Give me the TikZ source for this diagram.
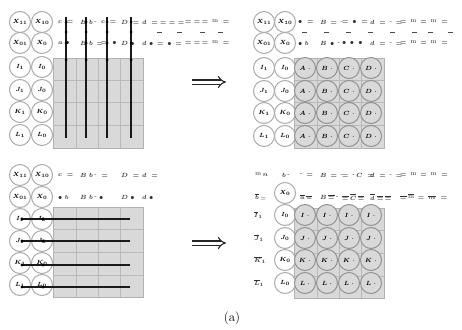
\documentclass[tikz,border=0pt]{standalone}
\usetikzlibrary{arrows.meta}
\begin{document}
\begin{tikzpicture}[x=1pt,y=-1pt,
  cell/.style={circle,draw=gray!65,line width=1pt,fill=white,minimum size=21pt,inner sep=0pt,font=\fontsize{6}{6}\selectfont\boldmath},
  scell/.style={cell,fill=gray!30,draw=gray!85},
  gridbox/.style={fill=gray!30,draw=gray!60,line width=0.6pt,minimum width=90pt,minimum height=90pt,inner sep=0pt},
  gline/.style={gray!55,line width=0.6pt},
  frag/.style={font=\fontsize{6.5}{6.5}\selectfont\boldmath,text=black!80,inner sep=0pt,anchor=west},
  bar/.style={line width=2pt,black!90},
  implies/.style={double,double distance=3pt,line width=1.1pt,black!85,-{Implies[length=5pt]}}]
\useasboundingbox (0,0) rectangle (462,329);

% ================= top-left =================
\node[gridbox] (TLg) at (98,103) {};
\foreach \x in {76,98,120} \draw[gline] (\x,58) -- (\x,148);
\foreach \y in {80,102,125} \draw[gline] (53,\y) -- (143,\y);
\foreach \n/\a/\b/\y in {r1/X_{11}/X_{10}/22, r2/X_{01}/X_{0}/43, r3/I_1/I_0/67, r4/J_1/J_0/90, r5/K_1/K_0/112, r6/L_1/L_0/135}{
  \node[cell] (TLa\n) at (20,\y) {$\a$};
  \node[cell] (TLb\n) at (42,\y) {$\b$};
}
\foreach \x/\t in {58/c\;=, 80/B\;b\,\raisebox{1pt}{-}, 101/c\;=, 121/D\;=, 142/d\;=\;=\;=\;=, 185/=\;=\,=\,\raisebox{1pt}{m}\;=}
  \node[frag] at (\x,22) {$\t$};
\foreach \x in {157,177,200,218} \draw[black!70,line width=0.8pt] (\x,32) -- ++(5,0);
\foreach \x/\t in {58/a\;\bullet, 80/B\;b\,=, 101/=\;\bullet, 121/D\;\bullet, 142/d\;\bullet\,=\,\bullet\,=, 185/=\;=\,=\,\raisebox{1pt}{m}\;=}
  \node[frag] at (\x,43) {$\t$};
\foreach \i/\xx in {1/66,2/86,3/107,4/131}{
  \coordinate (TLv\i t) at (\xx,17);
  \coordinate (TLv\i b) at (\xx,138);
  \draw[bar] (TLv\i t) -- (TLv\i b);
}
\foreach \xx in {66,86,107,131}{
  \foreach \yy in {22,32,43,60} \fill[black] (\xx,\yy) circle (1.5pt);
}

\coordinate (A1s) at (192,82);
\coordinate (A1e) at (226,82);
\draw[implies] (A1s) -- (A1e);

% ================= top-right =================
\node[gridbox] (TRg) at (339,103) {};
\foreach \x in {317,339,361} \draw[gline] (\x,58) -- (\x,148);
\foreach \y in {80,102,125} \draw[gline] (295,\y) -- (384,\y);
\foreach \n/\a/\b/\y in {r1/X_{11}/X_{10}/22, r2/X_{01}/X_{0}/43, r3/I_1/I_0/68, r4/J_1/J_0/91, r5/K_1/K_0/113, r6/L_1/L_0/136}{
  \node[cell] (TRa\n) at (264,\y) {$\a$};
  \node[cell] (TRb\n) at (285,\y) {$\b$};
}
\foreach \r/\y in {1/68,2/91,3/113,4/136}{
  \foreach \c/\x/\l in {1/305/A,2/327/B,3/349/C,4/371/D}
    \node[scell] (TRs\r\c) at (\x,\y) {$\l\;\cdot$};
}
\foreach \x/\t in {298/\bullet\;=, 320/B\,=\,\raisebox{1pt}{-}, 342/=\,\bullet\;=, 370/d\;=\,\raisebox{1pt}{-}\,=, 400/=\,\raisebox{1pt}{m}\,=\,\raisebox{1pt}{m}\;=}
  \node[frag] at (\x,22) {$\t$};
\foreach \x in {302,324,346,368,390,412,428,448} \draw[black!70,line width=0.8pt] (\x,32) -- ++(5,0);
\foreach \x/\t in {298/\bullet\;b, 320/B\,\bullet\,\raisebox{1pt}{-}, 342/\bullet\,\bullet\;\bullet, 370/d\;=\,\raisebox{1pt}{-}\,=, 400/=\,\raisebox{1pt}{m}\,=\,\raisebox{1pt}{m}\;=}
  \node[frag] at (\x,43) {$\t$};

% ================= bottom-left =================
\node[gridbox] (BLg) at (98,252) {};
\foreach \x in {76,98,120} \draw[gline] (\x,207) -- (\x,297);
\foreach \y in {229,252,275} \draw[gline] (53,\y) -- (143,\y);
\foreach \n/\a/\b/\y in {r1/X_{11}/X_{10}/175, r2/X_{01}/X_{0}/197, r3/I_1/I_0/219, r4/J_1/J_0/241, r5/K_1/K_0/263, r6/L_1/L_0/285}{
  \node[cell] (BLa\n) at (20,\y) {$\a$};
  \node[cell] (BLb\n) at (42,\y) {$\b$};
}
\foreach \x/\t in {58/c\;=, 80/B\;b\,\raisebox{1pt}{-}\;=, 121/D\;=, 142/d\;=}
  \node[frag] at (\x,175) {$\t$};
\foreach \x/\t in {58/\bullet\;b, 80/B\;b\,\raisebox{1pt}{-}\;\bullet, 121/D\;\bullet, 142/d\;\bullet}
  \node[frag] at (\x,197) {$\t$};
\foreach \i/\yy in {1/219,2/241,3/265,4/287}{
  \coordinate (BLh\i l) at (22,\yy);
  \coordinate (BLh\i r) at (130,\yy);
  \draw[bar] (BLh\i l) -- (BLh\i r);
  \fill[black] (BLh\i l) circle (1.6pt);
  \fill[black] (43,\yy) circle (1.6pt);
}

\coordinate (A2s) at (192,243);
\coordinate (A2e) at (226,243);
\draw[implies] (A2s) -- (A2e);

% ================= bottom-right =================
\node[gridbox] (BRg) at (339,253) {};
\foreach \x in {317,339,361} \draw[gline] (\x,208) -- (\x,298);
\foreach \y in {230,253,276} \draw[gline] (295,\y) -- (384,\y);
\foreach \n/\b/\y in {r2/X_{0}/193, r3/I_0/215, r4/J_0/238, r5/K_0/260, r6/L_0/283}
  \node[cell] (BRb\n) at (285,\y) {$\b$};
\foreach \r/\y/\l in {1/215/I,2/238/J,3/260/K,4/283/L}{
  \foreach \c/\x in {1/305,2/327,3/349,4/371}
    \node[scell] (BRs\r\c) at (\x,\y) {$\l\;\cdot$};
}
\foreach \x/\t in {255/\raisebox{1pt}{m}\,n, 282/b\,\raisebox{1pt}{-}, 300/\raisebox{1pt}{-}\,=, 320/B\,=\,\raisebox{1pt}{-}, 342/=\,\raisebox{1pt}{-}\,C\;=, 370/d\;=\,\raisebox{1pt}{-}\,=, 400/=\,\raisebox{1pt}{m}\,=\,\raisebox{1pt}{m}\;=}
  \node[frag] at (\x,175) {$\t$};
\foreach \x/\t in {255/\overline{b}\,\raisebox{-1pt}{=}, 300/\overline{a}\,\overline{\scriptstyle =}, 320/B\,\overline{=}\,\raisebox{1pt}{-}, 342/\overline{=}\,\overline{C}\,\overline{=}, 370/\overline{d}\;\overline{=}\,\overline{=}, 400/\overline{=}\,\overline{\raisebox{1pt}{m}}\,=\,\overline{m}\;=}
  \node[frag] at (\x,197) {$\t$};
\foreach \y/\t in {215/\overline{I}_1, 238/\overline{J}_1, 260/\overline{K}_1, 283/\overline{L}_1}
  \node[frag] at (254,\y) {$\t$};

% ================= caption =================
\node[font=\fontsize{13}{14}\selectfont,inner sep=0pt] (cap) at (232,318) {(a)};
\end{tikzpicture}
\end{document}
